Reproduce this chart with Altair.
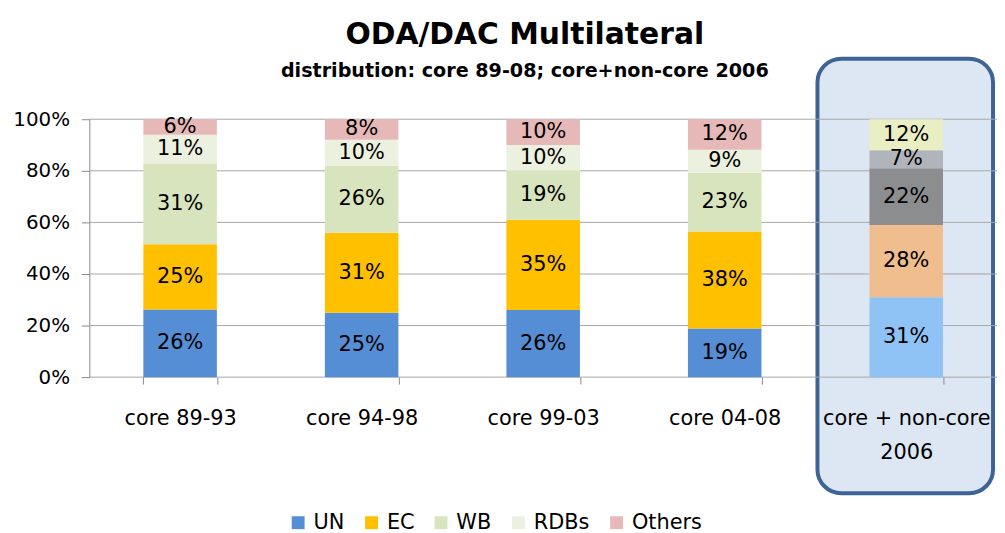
import altair as alt
import pandas as pd

cats = ["core 89-93", "core 94-98", "core 99-03", "core 04-08", "core + non-core 2006"]
groups = ["UN", "EC", "WB", "RDBs", "Others"]
UN = [26, 25, 26, 19, 31]
EC = [25, 31, 35, 38, 28]
WB = [31, 26, 19, 23, 22]
RDBs = [11, 10, 10, 9, 7]
Others = [6, 8, 10, 12, 12]
series = {"UN": UN, "EC": EC, "WB": WB, "RDBs": RDBs, "Others": Others}

colors_core = ["#558ed5", "#ffc000", "#d7e4bd", "#ebf1de", "#e6b9b8"]
colors_2006 = ["#8fc3f6", "#f0bd8e", "#8c8d8f", "#b1b5bb", "#e9eec3"]
grid_vals = [0, 0.2, 0.4, 0.6, 0.8, 1.0]
title_text = "ODA/DAC Multilateral"
subtitle_text = "distribution: core 89-08; core+non-core 2006"

rows = []
for ci, c in enumerate(cats):
    for gi, g in enumerate(groups):
        key = g if ci < len(cats) - 1 else g + " 2006"
        rows.append({"cat": c, "group": g, "key": key, "ord": gi,
                     "value": series[g][ci], "label": f"{series[g][ci]}%"})
df = pd.DataFrame(rows)

FONT = "DejaVu Sans"
xscale = alt.Scale(domain=cats, paddingInner=0.595, paddingOuter=0.2975)
yscale = alt.Scale(domain=[0, 1])
yaxis = alt.Axis(values=grid_vals, format=".0%", title=None, grid=False,
                 domainColor="#888888", tickColor="#888888", tickSize=8,
                 labelPadding=12, labelFontSize=20, labelFont=FONT, labelColor="#000000")

xaxis = alt.Axis(title=None, domain=False, tickBand="extent", tickColor="#888888",
                 tickSize=7, labelPadding=24, labelFontSize=21, labelFont=FONT,
                 labelColor="#000000", labelAngle=0, labelLineHeight=34, zindex=1,
                 labelExpr="datum.value == 'core + non-core 2006' ? ['core + non-core', '2006'] : datum.label")

box = alt.Chart(pd.DataFrame({"a": [0]})).mark_rect(
    fill="#dde7f3", stroke="#3e6496", strokeWidth=4, cornerRadius=24
).encode(x=alt.value(734), x2=alt.value(911), y=alt.value(-61), y2=alt.value(377))

titles = alt.Chart(pd.DataFrame({"t": [title_text]})).mark_text(
    font=FONT, fontSize=30, fontWeight="bold", color="#000000",
    align="center", baseline="alphabetic"
).encode(x=alt.value(439), y=alt.value(-76), text="t:N")

subtitles = alt.Chart(pd.DataFrame({"t": [subtitle_text]})).mark_text(
    font=FONT, fontSize=19.3, fontWeight="bold", color="#000000",
    align="center", baseline="alphabetic"
).encode(x=alt.value(439), y=alt.value(-43), text="t:N")

grid = alt.Chart(pd.DataFrame({"y0": grid_vals})).mark_rule(
    color="#a6a6a6", strokeWidth=1
).encode(y=alt.Y("y0:Q", scale=yscale, axis=yaxis))

base = alt.Chart(df).transform_stack(
    stack="value", groupby=["cat"], sort=[alt.SortField("ord", order="ascending")],
    as_=["y0", "y1"], offset="normalize"
).transform_calculate(mid="(datum.y0 + datum.y1) / 2")

bars = base.mark_bar().encode(
    x=alt.X("cat:N", scale=xscale, axis=xaxis, sort=cats),
    y=alt.Y("y0:Q", scale=yscale, axis=yaxis),
    y2="y1:Q",
    color=alt.Color("key:N",
                    scale=alt.Scale(domain=groups + [g + " 2006" for g in groups],
                                    range=colors_core + colors_2006),
                    legend=alt.Legend(values=groups, title=None, orient="none",
                                      direction="horizontal", legendX=200, legendY=396,
                                      symbolType="square", symbolSize=169,
                                      symbolStrokeWidth=0, labelFontSize=21,
                                      labelFont=FONT, labelColor="#000000",
                                      labelOffset=5, columnPadding=16, padding=0)),
)

texts = base.mark_text(fontSize=21, font=FONT, color="#000000", baseline="middle").encode(
    x=alt.X("cat:N", scale=xscale, axis=xaxis, sort=cats),
    y=alt.Y("mid:Q", scale=yscale, axis=yaxis),
    text="label:N",
)

chart = alt.layer(box, titles, subtitles, grid, bars, texts).properties(
    width=915, height=260,
    autosize=alt.AutoSizeParams(type="none"),
    padding={"left": 82, "top": 110, "right": 0, "bottom": 155},
).configure_view(stroke=None)

chart.save("out.html", embed_options={"renderer": "svg", "actions": False})
